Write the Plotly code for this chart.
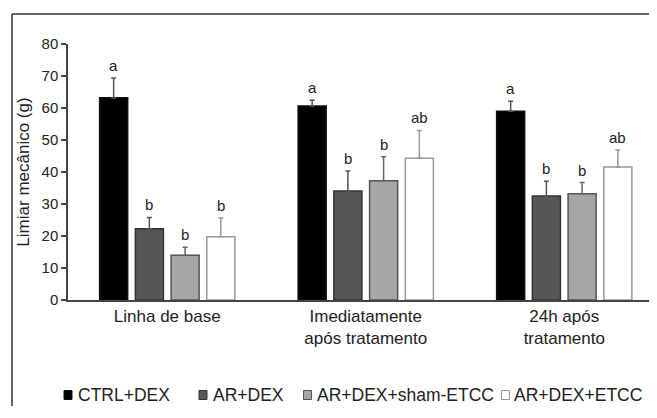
import plotly.graph_objects as go

# ---------------- data ----------------
categories = ["Linha de base", "Imediatamente<br>após tratamento", "24h após<br>tratamento"]
series_names = ["CTRL+DEX", "AR+DEX", "AR+DEX+sham-ETCC", "AR+DEX+ETCC"]
ctrl_dex = [63.2, 60.6, 59.0]
ar_dex = [22.3, 34.1, 32.5]
ar_dex_sham = [14.0, 37.3, 33.2]
ar_dex_etcc = [19.8, 44.3, 41.6]
ctrl_dex_err = [6.2, 1.8, 3.1]
ar_dex_err = [3.5, 6.2, 4.6]
ar_dex_sham_err = [2.5, 7.5, 3.5]
ar_dex_etcc_err = [5.8, 8.7, 5.3]
ctrl_dex_lbl = ["a", "a", "a"]
ar_dex_lbl = ["b", "b", "b"]
ar_dex_sham_lbl = ["b", "b", "b"]
ar_dex_etcc_lbl = ["b", "ab", "ab"]
y_ticks = [0, 10, 20, 30, 40, 50, 60, 70, 80]

values = [ctrl_dex, ar_dex, ar_dex_sham, ar_dex_etcc]
errors = [ctrl_dex_err, ar_dex_err, ar_dex_sham_err, ar_dex_etcc_err]
letters = [ctrl_dex_lbl, ar_dex_lbl, ar_dex_sham_lbl, ar_dex_etcc_lbl]

# ---------------- style ----------------
fills = ["#000000", "#565656", "#a6a6a6", "#ffffff"]
outlines = ["#111111", "#333333", "#555555", "#999999"]
errcols = ["#555555", "#555555", "#666666", "#999999"]
FONT = "Liberation Sans, Arial, Helvetica, sans-serif"
TXT = "#222222"
AX = "#444444"

# the page body adds an 8px margin; leave a little slack so the page never overflows
W, H = 647, 398
ML, MR, MT = 60, 0, 36
PH = 256
MB = H - MT - PH
PW = W - ML - MR
CAT_PX = 198.5          # pixel pitch of one category group
BARGAP = 0.28
GROUPGAP = 0.215

fig = go.Figure()
for name, v, e, fc, lc, ec in zip(series_names, values, errors, fills, outlines, errcols):
    fig.add_trace(go.Bar(
        name=name, x=categories, y=v,
        marker=dict(color=fc, line=dict(color=lc, width=1.5)),
        error_y=dict(type="data", array=e, arrayminus=[0] * len(e), symmetric=False,
                     visible=True, color=ec, thickness=1.5, width=2.5),
        showlegend=False,
    ))

# significance letters above error bars
slot = (1 - BARGAP) / len(series_names)
annotations = []
for k, (v, e, lab) in enumerate(zip(values, errors, letters)):
    for i in range(len(categories)):
        annotations.append(dict(
            x=i + (k - 1.5) * slot, y=v[i] + e[i], xref="x", yref="y",
            text=lab[i], showarrow=False, yanchor="bottom", yshift=2,
            font=dict(family=FONT, size=15, color=TXT),
        ))

def px_x(p):
    return (p - ML) / PW

def px_y(p):
    return (H - MB - p) / PH

# manual legend
leg_marker_cx = [60, 195, 299.5, 497.5]
leg_text_x = [68, 203, 307, 504]
leg_y = 387
shapes = []
for name, fc, lc, mx, tx in zip(series_names, fills, outlines, leg_marker_cx, leg_text_x):
    shapes.append(dict(type="rect", xref="paper", yref="paper",
                       x0=px_x(mx - 4), x1=px_x(mx + 4), y0=px_y(leg_y + 4.5), y1=px_y(leg_y - 4.5),
                       fillcolor=fc, line=dict(color=lc, width=1)))
    annotations.append(dict(x=px_x(tx), y=px_y(leg_y), xref="paper", yref="paper",
                            text=name, showarrow=False, xanchor="left", yanchor="middle",
                            font=dict(family=FONT, size=17.5, color=TXT)))

# outer frame (top and left edges visible), kept inside the figure
shapes.append(dict(type="line", xref="paper", yref="paper",
                   x0=px_x(4), x1=px_x(W), y0=px_y(6), y1=px_y(6),
                   line=dict(color="#333333", width=1.5)))
shapes.append(dict(type="line", xref="paper", yref="paper",
                   x0=px_x(4), x1=px_x(4), y0=px_y(6), y1=px_y(H),
                   line=dict(color="#333333", width=1.5)))

fig.update_layout(
    width=W, height=H,
    margin=dict(l=ML, r=MR, t=MT, b=MB, pad=0),
    paper_bgcolor="white", plot_bgcolor="white",
    barmode="group", bargap=BARGAP, bargroupgap=GROUPGAP,
    font=dict(family=FONT, color=TXT),
    annotations=annotations, shapes=shapes,
    xaxis=dict(type="category", range=[-0.5, -0.5 + PW / CAT_PX], showline=True, linecolor=AX,
               linewidth=1.5, ticks="", showgrid=False, zeroline=False,
               tickfont=dict(family=FONT, size=17, color=TXT)),
    yaxis=dict(range=[0, 80], tickvals=y_ticks, showline=True, linecolor=AX, linewidth=1.5,
               ticks="outside", ticklen=5, tickwidth=1.5, tickcolor=AX,
               showgrid=False, zeroline=False,
               tickfont=dict(family=FONT, size=15, color=TXT),
               title=dict(text="Limiar mecânico (g)", standoff=8,
                          font=dict(family=FONT, size=17, color=TXT))),
)

fig.write_html("out.html")
